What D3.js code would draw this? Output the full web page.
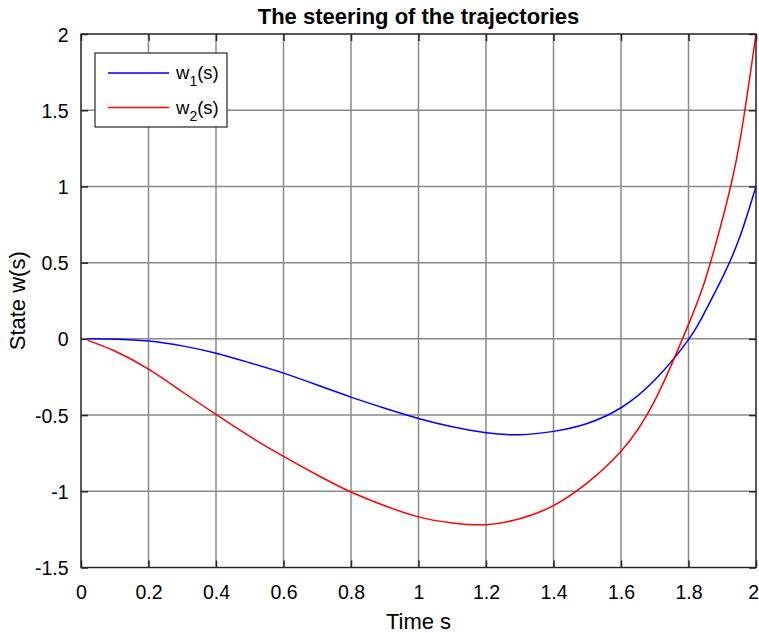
<!DOCTYPE html>
<html>
<head>
<meta charset="utf-8">
<script src="https://d3js.org/d3.v7.min.js"></script>
<style>
  body { margin: 0; background: #fff; }
  text { font-family: "Liberation Sans", Arial, sans-serif; fill: #000; }
</style>
</head>
<body>
<svg id="chart" width="759" height="633"></svg>
<script>
// values
var sVals  = [0.02, 0.1, 0.2, 0.3, 0.4, 0.5, 0.6, 0.7, 0.8, 0.9, 1.0, 1.1, 1.2, 1.3, 1.4, 1.5, 1.6, 1.7, 1.8, 1.85, 1.9, 1.95, 2.0];
var w1Vals = [0, -0.002, -0.014, -0.046, -0.094, -0.157, -0.225, -0.303, -0.382, -0.455, -0.522, -0.577, -0.616, -0.629, -0.607, -0.555, -0.452, -0.27, -0.005, 0.183, 0.40, 0.656, 1.0];
var w2Vals = [-0.01, -0.08, -0.199, -0.347, -0.496, -0.64, -0.771, -0.893, -1.005, -1.095, -1.168, -1.208, -1.219, -1.18, -1.094, -0.945, -0.738, -0.405, 0.095, 0.39, 0.78, 1.27, 2.0];
var xTicks = [0, 0.2, 0.4, 0.6, 0.8, 1, 1.2, 1.4, 1.6, 1.8, 2];
var yTicks = [-1.5, -1, -0.5, 0, 0.5, 1, 1.5, 2];
var seriesNames = ["w", "w"];
var seriesSubs = ["1", "2"];
var seriesColors = ["#0000ff", "#ff0000"];

//布局
let margin = {top: 34, right: 3, bottom: 65.5, left: 81},
    width = 759 - margin.left - margin.right,
    height = 633 - margin.top - margin.bottom;

let svg = d3.select("#chart");
let g = svg.append("g").attr("transform", "translate(" + margin.left + "," + margin.top + ")");

let xLinear = d3.scaleLinear().domain([0, 2]).range([0, width]);
let yLinear = d3.scaleLinear().domain([-1.5, 2]).range([height, 0]);

// MATLAB style labels: plain hyphen minus
let fmt = function (d) { return String(d); };

// grid
g.selectAll(".vgrid").data(xTicks).enter().append("line")
    .attr("x1", d => xLinear(d)).attr("x2", d => xLinear(d))
    .attr("y1", 0).attr("y2", height)
    .attr("stroke", "#8a8a8a").attr("stroke-width", 1.5);
g.selectAll(".hgrid").data(yTicks).enter().append("line")
    .attr("y1", d => yLinear(d)).attr("y2", d => yLinear(d))
    .attr("x1", 0).attr("x2", width)
    .attr("stroke", "#8a8a8a").attr("stroke-width", 1.5);

// curves
let line = d3.line()
    .x(function (d) { return xLinear(d[0]); })
    .y(function (d) { return yLinear(d[1]); })
    .curve(d3.curveNatural);
let series = [w1Vals, w2Vals];
series.forEach(function (vals, k) {
    g.append("path")
        .datum(sVals.map(function (s, i) { return [s, vals[i]]; }))
        .attr("d", line)
        .attr("fill", "none")
        .attr("stroke", seriesColors[k])
        .attr("stroke-width", 1.5);
});

// axes, ticks on all four sides
let tickLen = 7;
let axisColor = "#262626";
let xAxis = d3.axisBottom(xLinear).tickValues(xTicks).tickSize(tickLen).tickFormat(fmt);
let yAxis = d3.axisLeft(yLinear).tickValues(yTicks).tickSize(tickLen).tickFormat(fmt);

let gx = g.append("g").attr("transform", "translate(0," + height + ")").call(xAxis);
gx.selectAll(".tick line").attr("y2", -tickLen);
gx.selectAll(".tick text").attr("y", 31).attr("dy", null);
// keep the last label inside the window
gx.selectAll(".tick text").filter(function (d) { return d === 2; })
    .attr("text-anchor", "end").attr("x", 2.5);

let gy = g.append("g").call(yAxis);
gy.selectAll(".tick line").attr("x2", tickLen);
gy.selectAll(".tick text").attr("x", -12.5).attr("dy", "0.36em");

let gxTop = g.append("g").call(d3.axisTop(xLinear).tickValues(xTicks).tickSize(-tickLen).tickFormat(""));
let gyRight = g.append("g").attr("transform", "translate(" + width + ",0)")
    .call(d3.axisRight(yLinear).tickValues(yTicks).tickSize(-tickLen).tickFormat(""));

[gx, gy, gxTop, gyRight].forEach(function (a) {
    a.select(".domain").remove();
    a.selectAll(".tick line").attr("stroke", axisColor).attr("stroke-width", 1.5);
    a.selectAll(".tick text").style("font-size", "19.5px").attr("fill", "#000")
        .style("font-family", "Liberation Sans, Arial, sans-serif");
});

g.append("rect")
    .attr("x", 0).attr("y", 0).attr("width", width).attr("height", height)
    .attr("fill", "none").attr("stroke", axisColor).attr("stroke-width", 1.2);

// titles
svg.append("text")
    .attr("x", margin.left + width / 2).attr("y", 23.5)
    .attr("text-anchor", "middle")
    .style("font-size", "22px").style("font-weight", "bold")
    .text("The steering of the trajectories");
svg.append("text")
    .attr("x", margin.left + width / 2).attr("y", 629)
    .attr("text-anchor", "middle")
    .style("font-size", "22px")
    .text("Time s");
svg.append("text")
    .attr("transform", "translate(25," + (margin.top + height / 2) + ") rotate(-90)")
    .attr("text-anchor", "middle")
    .style("font-size", "22px")
    .text("State w(s)");

// legend
let lg = svg.append("g").attr("transform", "translate(95,53)");
lg.append("rect").attr("width", 132).attr("height", 74)
    .attr("fill", "#fff").attr("stroke", axisColor).attr("stroke-width", 1.2);
seriesColors.forEach(function (c, i) {
    let yy = 20 + i * 34.5;
    lg.append("line").attr("x1", 13).attr("x2", 74).attr("y1", yy).attr("y2", yy)
        .attr("stroke", c).attr("stroke-width", 1.5);
    let t = lg.append("text").attr("x", 81).attr("y", yy + 6).style("font-size", "18.5px");
    t.append("tspan").text(seriesNames[i]);
    t.append("tspan").attr("dy", 7).style("font-size", "14px").text(seriesSubs[i]);
    t.append("tspan").attr("dy", -7).text("(s)");
});
</script>
</body>
</html>
